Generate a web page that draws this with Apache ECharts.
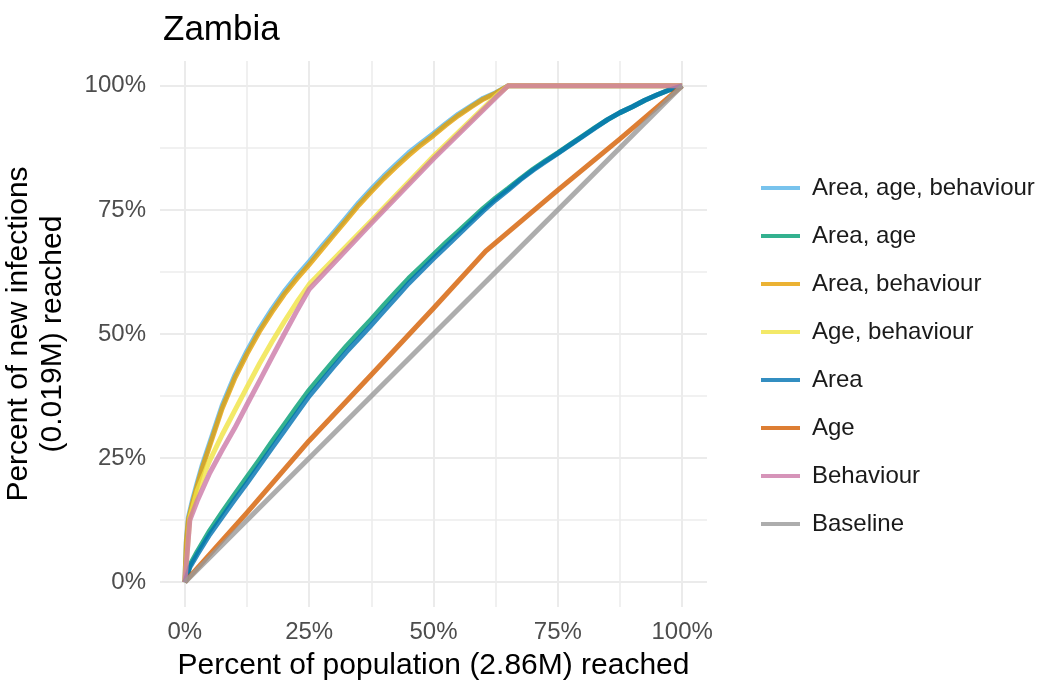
<!DOCTYPE html>
<html>
<head>
<meta charset="utf-8">
<script src="https://cdn.jsdelivr.net/npm/echarts@6/dist/echarts.min.js"></script>
<style>
html,body{margin:0;padding:0;background:#fff;}
#chart{width:1047px;height:686px;}
</style>
</head>
<body>
<div id="chart"></div>
<script>
// ---- data (percent of population reached, percent of new infections reached) ----
const seriesNames = ["Area, age, behaviour","Area, age","Area, behaviour","Age, behaviour","Area","Age","Behaviour","Baseline"];
const seriesColors = ["rgba(86,180,233,0.8)","rgba(0,158,115,0.8)","rgba(230,159,0,0.8)","rgba(240,228,66,0.8)","rgba(0,114,178,0.8)","rgba(213,94,0,0.8)","rgba(204,121,167,0.8)","rgba(153,153,153,0.8)"];

const areaAgeBehaviour = [[0,0],[0.3,8.5],[0.7,13],[1.5,16.4],[2.5,20.1],[3.5,23.6],[5,28.1],[7.5,35.6],[10,41.6],[12.5,46.6],[15,51.1],[17.5,55],[20,58.6],[22.5,61.7],[25,64.6],[27.5,67.6],[30,70.5],[32.5,73.5],[35,76.5],[37.5,79.2],[40,81.8],[42.5,84.2],[45,86.5],[47.5,88.5],[50,90.4],[52.5,92.4],[55,94.3],[57.5,95.9],[60,97.5],[62.5,98.6],[65,100],[100,100]];
const areaAge = [[0,0],[1,3.4],[2.5,6.2],[5,10.4],[7.5,14.1],[10,17.7],[12.5,21.2],[15,24.7],[17.5,28.3],[20,31.8],[22.5,35.3],[25,38.7],[27.5,41.7],[30,44.7],[32.5,47.6],[35,50.3],[37.5,53],[40,55.8],[42.5,58.5],[45,61.2],[47.5,63.6],[50,66],[52.5,68.4],[55,70.7],[57.5,73],[60,75.3],[62.5,77.4],[65,79.3],[67.5,81.3],[70,83.2],[72.5,84.9],[75,86.5],[77.5,88.2],[80,89.9],[82.5,91.6],[85,93.2],[87.5,94.6],[90,95.8],[92.5,97.1],[95,98.2],[97.5,99.2],[100,100]];
const areaBehaviour = [[0,0],[0.3,8],[0.7,12.5],[1.5,15.8],[2.5,19.5],[3.5,23],[5,27.5],[7.5,35],[10,41],[12.5,46],[15,50.5],[17.5,54.4],[20,58],[22.5,61.1],[25,64],[27.5,67],[30,70],[32.5,73],[35,76],[37.5,78.7],[40,81.3],[42.5,83.7],[45,86],[47.5,88.1],[50,90],[52.5,92.1],[55,94],[57.5,95.7],[60,97.3],[62.5,98.5],[65,100],[100,100]];
const ageBehaviour = [[0,0],[1,13],[2.5,18.5],[5,24.5],[7.5,29.7],[10,34.5],[12.5,39.3],[15,44],[17.5,48.4],[20,52.5],[22.5,56.4],[25,60],[37.5,72.8],[50,85.8],[62.5,97.9],[65,100],[100,100]];
const area = [[0,0],[1,3],[2.5,5.6],[5,9.6],[7.5,13.1],[10,16.6],[12.5,20],[15,23.5],[17.5,27],[20,30.5],[22.5,34],[25,37.5],[27.5,40.5],[30,43.5],[32.5,46.4],[35,49.1],[37.5,51.8],[40,54.6],[42.5,57.4],[45,60.2],[47.5,62.7],[50,65.2],[52.5,67.6],[55,70],[57.5,72.4],[60,74.8],[62.5,77],[65,79],[67.5,81.1],[70,83],[72.5,84.7],[75,86.4],[77.5,88.1],[80,89.8],[82.5,91.5],[85,93.2],[87.5,94.6],[90,95.8],[92.5,97.1],[95,98.2],[97.5,99.2],[100,100]];
const age = [[0,0],[12.5,14],[25,28.5],[37.5,41.8],[50,55.2],[60.5,66.7],[75,79],[87.5,89.3],[100,100]];
const behaviour = [[0,0],[1,12.5],[2.5,16.4],[5,22],[7.5,26.6],[10,31],[12.5,35.8],[15,40.5],[17.5,45.3],[20,50],[22.5,54.6],[25,59],[37.5,72.3],[50,85.3],[62.5,97.6],[65,100],[100,100]];
const baseline = [[0,0],[100,100]];

const seriesData = [areaAgeBehaviour, areaAge, areaBehaviour, ageBehaviour, area, age, behaviour, baseline];

const tickValues = [0,25,50,75,100];
const minorGrid = [12.5,37.5,62.5,87.5];

const chart = echarts.init(document.getElementById('chart'), null, {renderer:'canvas'});
const font = "'Liberation Sans', Arial, Helvetica, sans-serif";

const gridLineData = [];
tickValues.forEach(v => {
  gridLineData.push({xAxis: v, lineStyle:{color:'#ebebeb', width:2, type:'solid'}});
  gridLineData.push({yAxis: v, lineStyle:{color:'#ebebeb', width:2, type:'solid'}});
});
minorGrid.forEach(v => {
  gridLineData.push({xAxis: v, lineStyle:{color:'#ededed', width:1.6, type:'solid'}});
  gridLineData.push({yAxis: v, lineStyle:{color:'#ededed', width:1.6, type:'solid'}});
});

const series = [{
  type:'line', name:'__grid', data:[], z:1, silent:true,
  markLine:{silent:true, z:1, symbol:['none','none'], label:{show:false}, animation:false, emphasis:{disabled:true}, data:gridLineData}
}];
seriesNames.forEach((n,i) => {
  series.push({
    type:'line', name:n, data:seriesData[i], showSymbol:false, symbol:'none',
    smooth:false,
    color: seriesColors[i],
    lineStyle:{width:5, color:seriesColors[i], cap:'butt', join:'round'},
    z: 10 + i, emphasis:{disabled:true}, silent:true
  });
});

const labelFmt = v => tickValues.includes(v) ? v + '%' : '';

chart.setOption({
  animation:false,
  backgroundColor:'#ffffff',
  textStyle:{fontFamily:font},
  title:{text:'Zambia', left:158, top:8, textStyle:{fontSize:35, fontWeight:'normal', color:'#000', fontFamily:font}},
  grid:{left:160, right:340, top:61, bottom:79, containLabel:false, outerBoundsMode:'none'},
  legend:{
    data:seriesNames, orient:'vertical', left:756, top:171, icon:'rect',
    itemWidth:39, itemHeight:4, itemGap:24,
    textStyle:{fontSize:24, lineHeight:24, color:'#1a1a1a', fontFamily:font, padding:[0,0,0,7]},
    selectedMode:false
  },
  xAxis:{
    type:'value', min:-5, max:105, interval:5,
    axisLine:{show:false}, axisTick:{show:false}, splitLine:{show:false},
    axisLabel:{formatter:labelFmt, fontSize:24, color:'#4d4d4d', margin:13, fontFamily:font},
    name:'Percent of population (2.86M) reached', nameLocation:'middle', nameGap:44,
    nameTextStyle:{fontSize:30, color:'#000', fontFamily:font}
  },
  yAxis:{
    type:'value', min:-5, max:105, interval:5,
    axisLine:{show:false}, axisTick:{show:false}, splitLine:{show:false},
    axisLabel:{formatter:labelFmt, fontSize:24, color:'#4d4d4d', margin:14, fontFamily:font},
    name:'Percent of new infections\n(0.019M) reached', nameLocation:'middle', nameGap:90, nameRotate:90,
    nameTextStyle:{fontSize:30, lineHeight:34, color:'#000', fontFamily:font}
  },
  series:series
});
</script>
</body>
</html>
